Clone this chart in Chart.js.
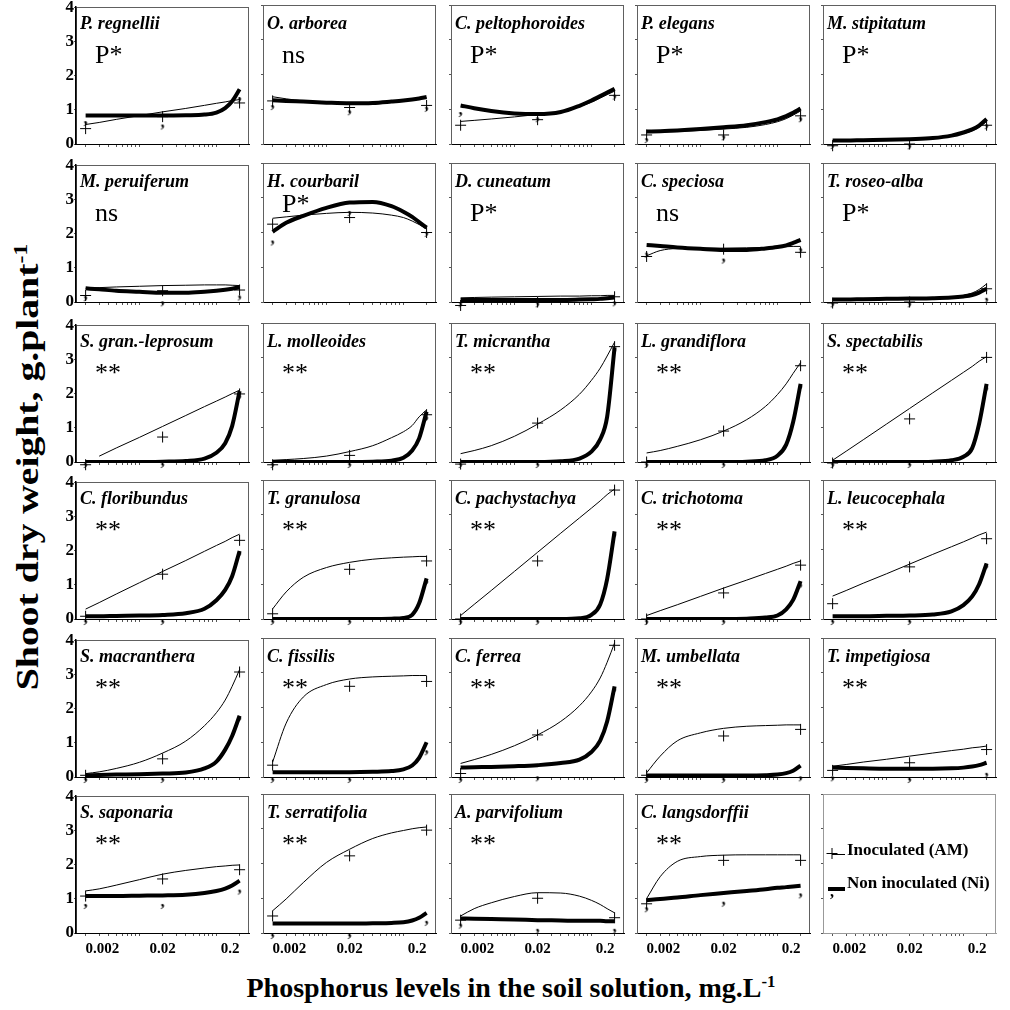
<!DOCTYPE html>
<html>
<head>
<meta charset="utf-8">
<script src="https://cdn.jsdelivr.net/npm/chart.js@4.4.1/dist/chart.umd.min.js"></script>
<style>
  body { margin: 0; background: #fff; width: 1010px; height: 1010px; position: relative; overflow: hidden; }
  canvas { position: absolute; }
  .name { position: absolute; font: bold italic 18px "Liberation Serif", serif; line-height: 18px; white-space: nowrap; color: #000; }
  .sig { position: absolute; font: 26px "Liberation Serif", serif; line-height: 26px; white-space: nowrap; color: #000; }
  .leg { position: absolute; font: bold 17px "Liberation Serif", serif; line-height: 17px; white-space: nowrap; color: #000; }
  .axtitle { position: absolute; font: bold 28px "Liberation Serif", serif; white-space: nowrap; color: #000; transform: translate(-50%, -50%); }
  .axtitle sup { font-size: 60%; }
</style>
</head>
<body>
<script>
// P levels where the means were measured, and the x grid of the fitted curves
const pLevels = [0.002, 0.02, 0.2];
const pLabels = ['0.002', '0.02', '0.2'];
const curveP = [0.002, 0.003, 0.005, 0.01, 0.02, 0.04, 0.07, 0.1, 0.13, 0.16, 0.2];
const yTicks = [0, 1, 2, 3, 4];

const species = [
  'P. regnellii', 'O. arborea', 'C. peltophoroides', 'P. elegans', 'M. stipitatum',
  'M. peruiferum', 'H. courbaril', 'D. cuneatum', 'C. speciosa', 'T. roseo-alba',
  'S. gran.-leprosum', 'L. molleoides', 'T. micrantha', 'L. grandiflora', 'S. spectabilis',
  'C. floribundus', 'T. granulosa', 'C. pachystachya', 'C. trichotoma', 'L. leucocephala',
  'S. macranthera', 'C. fissilis', 'C. ferrea', 'M. umbellata', 'T. impetigiosa',
  'S. saponaria', 'T. serratifolia', 'A. parvifolium', 'C. langsdorffii'
];
const signif = [
  'P*', 'ns', 'P*', 'P*', 'P*',
  'ns', 'P*', 'P*', 'ns', 'P*',
  '**', '**', '**', '**', '**',
  '**', '**', '**', '**', '**',
  '**', '**', '**', '**', '**',
  '**', '**', '**', '**'
];

// inoculated (AM) means, "+" marks
const amMeans = [
  [0.45, 0.8, 1.2], [1.24, 1.05, 1.11], [0.54, 0.7, 1.4], [0.26, 0.26, 0.81], [-0.05, 0, 0.54],
  [0.19, 0.33, 0.35], [2.24, 2.43, 2.0], [-0.1, 0, 0.15], [1.31, 1.52, 1.43], [-0.03, 0, 0.38],
  [-0.08, 0.73, 1.99], [-0.08, 0.19, 1.36], [-0.06, 1.12, 3.32], [0, 0.89, 2.77], [-0.03, 1.24, 3.01],
  [0.08, 1.31, 2.3], [0.15, 1.43, 1.67], [0, 1.67, 3.71], [0, 0.75, 1.55], [0.44, 1.5, 2.31],
  [0.05, 0.53, 3.07], [0.34, 2.61, 2.75], [0.1, 1.21, 3.79], [0.05, 1.18, 1.37], [0.19, 0.41, 0.79],
  [1.08, 1.58, 1.85], [0.49, 2.22, 2.96], [0.37, 1.0, 0.44], [0.84, 2.09, 2.09]
];
// non inoculated (Ni) means, "," marks
const niMeans = [
  [0.7, 0.6, 1.4], [1.15, 1.0, 1.1], [0.95, 0.8, 1.45], [0.2, 0.28, 0.8], [0.03, 0.02, 0.6],
  [0.2, 0.05, 0.22], [1.8, 2.65, 2.05], [0.02, 0.02, 0.05], [1.45, 1.28, 1.58], [0.02, 0.02, 0.15],
  [0, 0, 2.0], [0, 0, 1.35], [0, 0, 3.3], [0, 0, 2.25], [0, 0, 2.2],
  [0, 0, 2.0], [0, 0, 1.15], [0, 0, 2.5], [0, 0, 1.05], [0, 0, 1.6],
  [0, 0, 1.8], [0, 0, 0.8], [0, 0.05, 2.6], [0, 0, 0.05], [0.05, 0, 0.15],
  [0.88, 0.88, 1.3], [0, 0, 0.38], [0.3, 0.15, 0.15], [0.77, 0.93, 1.17]
];

// fitted curves read at curveP (thin = AM, thick = Ni)
const amFit = [
  [0.57, 0.63, 0.72, 0.83, 0.94, 1.04, 1.13, 1.19, 1.23, 1.27, 1.3],
  [1.36, 1.3, 1.24, 1.2, 1.17, 1.18, 1.22, 1.25, 1.28, 1.31, 1.33],
  [0.65, 0.68, 0.72, 0.78, 0.85, 0.92, 1.08, 1.2, 1.32, 1.42, 1.52],
  [0.33, 0.34, 0.36, 0.39, 0.43, 0.48, 0.56, 0.64, 0.73, 0.83, 0.95],
  [0.1, 0.1, 0.11, 0.12, 0.14, 0.17, 0.23, 0.3, 0.38, 0.48, 0.65],
  [0.4, 0.42, 0.44, 0.46, 0.48, 0.49, 0.5, 0.5, 0.5, 0.49, 0.48],
  [2.41, 2.45, 2.5, 2.55, 2.58, 2.56, 2.5, 2.43, 2.33, 2.23, 2.1],
  [0.12, 0.13, 0.14, 0.15, 0.16, 0.17, 0.17, 0.18, 0.18, 0.19, 0.19],
  [1.33, 1.48, 1.54, 1.55, 1.55, 1.56, 1.57, 1.58, 1.59, 1.6, 1.6],
  [0.07, 0.07, 0.08, 0.09, 0.1, 0.12, 0.15, 0.19, 0.26, 0.36, 0.52],
  [null, 0.17, 0.41, 0.72, 1.04, 1.36, 1.62, 1.78, 1.9, 2.0, 2.1],
  [0.05, 0.07, 0.1, 0.17, 0.3, 0.47, 0.7, 0.87, 1.05, 1.3, 1.5],
  [0.24, 0.33, 0.47, 0.74, 1.09, 1.5, 1.95, 2.35, 2.7, 3.05, 3.45],
  [0.26, 0.33, 0.45, 0.64, 0.89, 1.22, 1.6, 1.94, 2.25, 2.55, 2.86],
  [0.05, 0.31, 0.64, 1.09, 1.54, 1.99, 2.35, 2.58, 2.75, 2.9, 3.03],
  [0.29, 0.48, 0.73, 1.06, 1.39, 1.71, 1.98, 2.15, 2.27, 2.38, 2.48],
  [0.29, 0.78, 1.2, 1.48, 1.63, 1.72, 1.76, 1.78, 1.79, 1.8, 1.8],
  [0.1, 0.42, 0.82, 1.37, 1.92, 2.47, 2.91, 3.19, 3.4, 3.58, 3.74],
  [0.1, 0.24, 0.41, 0.65, 0.89, 1.12, 1.31, 1.43, 1.52, 1.6, 1.67],
  [0.66, 0.82, 1.03, 1.3, 1.58, 1.86, 2.08, 2.22, 2.33, 2.42, 2.5],
  [0.1, 0.15, 0.25, 0.43, 0.7, 1.05, 1.5, 1.88, 2.25, 2.65, 3.14],
  [0.43, 1.55, 2.3, 2.66, 2.82, 2.88, 2.9, 2.91, 2.92, 2.92, 2.92],
  [0.39, 0.5, 0.65, 0.9, 1.21, 1.6, 2.05, 2.45, 2.85, 3.3, 3.86],
  [0.12, 0.6, 1.04, 1.27, 1.4, 1.46, 1.48, 1.49, 1.5, 1.5, 1.5],
  [0.31, 0.36, 0.43, 0.51, 0.6, 0.69, 0.76, 0.8, 0.84, 0.86, 0.89],
  [1.23, 1.29, 1.4, 1.56, 1.72, 1.83, 1.9, 1.94, 1.96, 1.98, 1.99],
  [0.64, 0.98, 1.45, 2.03, 2.41, 2.72, 2.88, 2.95, 3.0, 3.03, 3.05],
  [0.49, 0.7, 0.87, 1.05, 1.16, 1.15, 1.06, 0.94, 0.82, 0.7, 0.58],
  [0.99, 1.62, 2.06, 2.2, 2.24, 2.25, 2.25, 2.25, 2.25, 2.25, 2.25]
];
const niFit = [
  [0.83, 0.83, 0.83, 0.83, 0.83, 0.84, 0.86, 0.92, 1.05, 1.25, 1.6],
  [1.26, 1.24, 1.22, 1.19, 1.17, 1.18, 1.22, 1.25, 1.28, 1.31, 1.35],
  [1.11, 1.03, 0.95, 0.88, 0.86, 0.92, 1.1, 1.25, 1.38, 1.48, 1.59],
  [0.36, 0.37, 0.39, 0.43, 0.48, 0.54, 0.63, 0.71, 0.8, 0.9, 1.02],
  [0.1, 0.1, 0.11, 0.12, 0.14, 0.17, 0.24, 0.33, 0.42, 0.53, 0.72],
  [0.4, 0.37, 0.33, 0.3, 0.27, 0.27, 0.3, 0.33, 0.36, 0.39, 0.43],
  [2.02, 2.28, 2.48, 2.71, 2.86, 2.88, 2.76, 2.6, 2.45, 2.3, 2.14],
  [0.06, 0.06, 0.06, 0.06, 0.06, 0.06, 0.07, 0.08, 0.09, 0.11, 0.13],
  [1.64, 1.61, 1.57, 1.53, 1.5, 1.5, 1.54, 1.58, 1.63, 1.7, 1.79],
  [0.07, 0.07, 0.08, 0.09, 0.1, 0.11, 0.13, 0.16, 0.2, 0.27, 0.38],
  [0, 0, 0, 0, 0.01, 0.03, 0.1, 0.27, 0.55, 1.05, 2.07],
  [0, 0, 0, 0, 0, 0.01, 0.04, 0.12, 0.33, 0.68, 1.45],
  [0, 0, 0, 0, 0, 0.02, 0.1, 0.3, 0.65, 1.3, 3.3],
  [0, 0, 0, 0, 0, 0.01, 0.05, 0.18, 0.5, 1.15, 2.25],
  [0, 0, 0, 0, 0, 0.01, 0.05, 0.15, 0.4, 1.1, 2.25],
  [0.08, 0.08, 0.09, 0.1, 0.12, 0.17, 0.3, 0.55, 0.85, 1.25, 1.99],
  [0, 0, 0, 0, 0, 0, 0.01, 0.03, 0.12, 0.45, 1.17],
  [0, 0, 0, 0, 0, 0, 0.02, 0.12, 0.42, 1.15, 2.52],
  [0, 0, 0, 0, 0, 0.01, 0.04, 0.1, 0.28, 0.55, 1.09],
  [0.08, 0.08, 0.08, 0.09, 0.1, 0.13, 0.22, 0.4, 0.65, 1.0, 1.6],
  [0.05, 0.06, 0.07, 0.08, 0.1, 0.13, 0.25, 0.45, 0.8, 1.2, 1.79],
  [0.14, 0.14, 0.14, 0.14, 0.14, 0.15, 0.17, 0.22, 0.33, 0.55, 1.0],
  [0.27, 0.28, 0.29, 0.31, 0.34, 0.4, 0.5, 0.72, 1.05, 1.6, 2.61],
  [0.04, 0.04, 0.04, 0.04, 0.04, 0.04, 0.05, 0.07, 0.11, 0.18, 0.33],
  [0.27, 0.26, 0.25, 0.24, 0.24, 0.24, 0.25, 0.27, 0.3, 0.34, 0.41],
  [1.08, 1.08, 1.08, 1.09, 1.1, 1.12, 1.17, 1.23, 1.3, 1.39, 1.53],
  [0.27, 0.27, 0.27, 0.27, 0.27, 0.28, 0.29, 0.31, 0.36, 0.44, 0.58],
  [0.42, 0.41, 0.4, 0.39, 0.37, 0.36, 0.35, 0.35, 0.35, 0.34, 0.34],
  [0.94, 0.98, 1.02, 1.09, 1.15, 1.21, 1.26, 1.3, 1.32, 1.34, 1.36]
];

// page layout
const colLeft = [76, 263, 451, 637, 823];
const rowTop = [5, 163, 323, 480, 638, 794];
const plotW = 173, plotH = 139;
const padL = 26, padR = 8, padT = 8, padB = 26;
const xMin = 0.0015, xMax = 0.265;
const serif = '"Liberation Serif", "Times New Roman", serif';
const sigShift = { 6: -9 }; // H. courbaril label sits higher

// log minor ticks 0.002..0.2
const logTicks = [];
[0.001, 0.01, 0.1].forEach(d => {
  for (let n = 1; n <= 9; n++) {
    const v = +(n * d).toPrecision(3);
    if (v >= 0.002 && v <= 0.2) logTicks.push(v);
  }
});

// the "," marker used for the Ni means
function makeComma() {
  const cv = document.createElement('canvas');
  cv.width = 10; cv.height = 22;
  const g = cv.getContext('2d');
  g.fillStyle = '#000';
  g.font = 'bold 16px ' + serif;
  g.textAlign = 'center';
  g.textBaseline = 'middle';
  g.fillText(',', 5, 11);
  return cv;
}
const commaMark = makeComma();

const boxPlugin = {
  id: 'box',
  beforeDraw(chart, args, opts) {
    const a = chart.chartArea, ctx = chart.ctx;
    ctx.save();
    ctx.strokeStyle = opts.color || '#606060';
    ctx.lineWidth = 1;
    ctx.strokeRect(Math.round(a.left) + 0.5, Math.round(a.top) + 0.5, Math.round(a.width) - 1, Math.round(a.height));
    ctx.restore();
  }
};

const legendPlugin = {
  id: 'legendMarks',
  afterDraw(chart) {
    const a = chart.chartArea, ctx = chart.ctx;
    ctx.save();
    ctx.strokeStyle = '#000';
    // Inoculated: + and thin line
    ctx.lineWidth = 1;
    ctx.beginPath();
    ctx.moveTo(a.left + 3.5, a.top + 59.5); ctx.lineTo(a.left + 14.5, a.top + 59.5);
    ctx.moveTo(a.left + 9, a.top + 54); ctx.lineTo(a.left + 9, a.top + 65);
    ctx.moveTo(a.left + 9, a.top + 60.5); ctx.lineTo(a.left + 22, a.top + 60.5);
    ctx.stroke();
    // Non inoculated: thick line and comma
    ctx.lineWidth = 4;
    ctx.beginPath();
    ctx.moveTo(a.left + 5, a.top + 95); ctx.lineTo(a.left + 22, a.top + 95);
    ctx.stroke();
    ctx.drawImage(commaMark, a.left + 4, a.top + 88);
    ctx.restore();
  }
};

function curveData(vals) {
  const out = [];
  vals.forEach((v, k) => { if (v !== null) out.push({ x: curveP[k], y: v }); });
  return out;
}

function addText(cls, html, left, top) {
  const d = document.createElement('div');
  d.className = cls;
  d.innerHTML = html;
  d.style.left = left + 'px';
  d.style.top = top + 'px';
  document.body.appendChild(d);
  return d;
}

function makePanel(r, c, datasets, extraPlugins, boxColor) {
  const cv = document.createElement('canvas');
  cv.width = plotW + padL + padR;
  cv.height = plotH + padT + padB;
  cv.style.left = (colLeft[c] - padL) + 'px';
  cv.style.top = (rowTop[r] - padT) + 'px';
  document.body.appendChild(cv);
  const bottomRow = r === rowTop.length - 1;
  const tickFont = { family: serif, weight: 'bold', size: 15 };
  return new Chart(cv, {
    type: 'line',
    data: { datasets: datasets },
    options: {
      responsive: false,
      animation: false,
      devicePixelRatio: 1,
      layout: { padding: { top: padT, right: padR, left: 0, bottom: 0 } },
      plugins: { legend: { display: false }, tooltip: { enabled: false }, box: { color: boxColor } },
      scales: {
        x: {
          type: 'logarithmic',
          min: xMin,
          max: xMax,
          afterBuildTicks: s => { s.ticks = logTicks.map(v => ({ value: v })); },
          afterFit: s => { s.height = padB; },
          grid: { drawOnChartArea: false, drawTicks: true, tickLength: 3, color: '#555' },
          border: { display: true, color: boxColor === '#999' ? '#999' : '#000', width: 1 },
          ticks: {
            display: bottomRow,
            autoSkip: false,
            maxRotation: 0,
            align: 'inner',
            padding: 4,
            color: '#000',
            font: tickFont,
            callback: v => {
              const k = pLevels.findIndex(p => Math.abs(p - v) < 1e-9);
              return k >= 0 ? pLabels[k] : '';
            }
          }
        },
        y: {
          min: 0,
          max: 4,
          afterBuildTicks: s => { s.ticks = yTicks.map(v => ({ value: v })); },
          afterFit: s => { s.width = padL; },
          grid: { drawOnChartArea: false, drawTicks: true, tickLength: 2, color: '#555' },
          border: { display: true, color: c === 0 ? '#000' : (boxColor || '#606060'), width: c === 0 ? 1.5 : 1 },
          ticks: {
            display: c === 0,
            padding: 0,
            color: '#000',
            font: { family: serif, weight: 'bold', size: 17 }
          }
        }
      }
    },
    plugins: [boxPlugin].concat(extraPlugins || [])
  });
}

species.forEach((name, i) => {
  const r = Math.floor(i / 5), c = i % 5;
  makePanel(r, c, [
    {
      data: amMeans[i].map((v, k) => ({ x: pLevels[k], y: v })),
      showLine: false,
      pointStyle: 'cross',
      pointRadius: 5.5,
      pointBorderWidth: 1,
      pointBorderColor: '#000',
      borderColor: '#000',
      clip: false
    },
    {
      data: niMeans[i].map((v, k) => ({ x: pLevels[k], y: v })),
      showLine: false,
      pointStyle: commaMark,
      pointRadius: 3,
      borderColor: '#000',
      clip: false
    },
    {
      data: curveData(amFit[i]),
      borderColor: '#000',
      borderWidth: 1,
      pointRadius: 0,
      cubicInterpolationMode: 'monotone',
      fill: false
    },
    {
      data: curveData(niFit[i]),
      borderColor: '#000',
      borderWidth: 4,
      pointRadius: 0,
      cubicInterpolationMode: 'monotone',
      fill: false
    }
  ], [], '#606060');
  addText('name', name, colLeft[c] + 4, rowTop[r] + 9);
  addText('sig', signif[i], colLeft[c] + 19, rowTop[r] + 37 + (sigShift[i] || 0));
});

// legend panel (last cell)
makePanel(5, 4, [], [legendPlugin], '#999');
addText('leg', 'Inoculated (AM)', 847, 841);
addText('leg', 'Non inoculated (Ni)', 847, 874);

// axis titles
const yt = addText('axtitle', 'Shoot dry weight, g.plant<sup>-1</sup>', 28, 467);
yt.style.fontSize = '31px';
yt.style.transform = 'translate(-50%, -50%) rotate(-90deg) scaleX(1.28)';
addText('axtitle', 'Phosphorus levels in the soil solution, mg.L<sup>-1</sup>', 511, 988);
</script>
</body>
</html>
